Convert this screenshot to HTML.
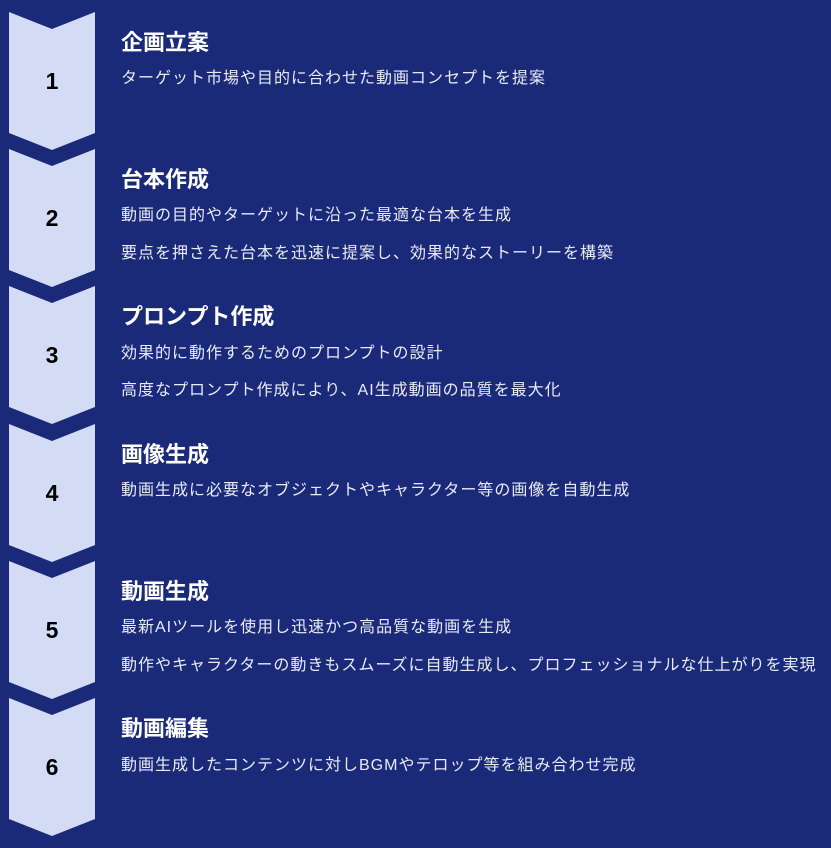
<!DOCTYPE html><html><head><meta charset="utf-8"><style>
body{margin:0;width:831px;height:848px;background:#1b2a78;font-family:"Liberation Sans","Noto Sans CJK JP",sans-serif;position:relative;overflow:hidden}
svg{position:absolute;left:0;top:0}
.t{position:absolute;left:121px;color:#fff;font-weight:bold;font-size:22px;line-height:26px;white-space:nowrap}
.d{position:absolute;left:121px;color:#e8ebf7;font-size:16px;letter-spacing:1px;line-height:20px;white-space:nowrap}
</style></head><body>
<svg width="831" height="848">
<g fill="#d4dcf5">
<polygon points="9,12 52,29 95,12 95,133 52,150 9,133"/>
<polygon points="9,149 52,166 95,149 95,270 52,287 9,270"/>
<polygon points="9,286 52,303 95,286 95,407 52,424 9,407"/>
<polygon points="9,424 52,441 95,424 95,545 52,562 9,545"/>
<polygon points="9,561 52,578 95,561 95,682 52,699 9,682"/>
<polygon points="9,698 52,715 95,698 95,819 52,836 9,819"/>
</g>
<g font-family="Liberation Sans,sans-serif" font-weight="bold" font-size="23" text-anchor="middle" fill="#000">
<text x="52" y="89">1</text><text x="52" y="226">2</text><text x="52" y="363">3</text><text x="52" y="501">4</text><text x="52" y="638">5</text><text x="52" y="775">6</text>
</g></svg>
<div class="t" style="top:30px">企画立案</div>
<div class="d" style="top:69px">ターゲット市場や目的に合わせた動画コンセプトを提案</div>
<div class="t" style="top:167px">台本作成</div>
<div class="d" style="top:206px">動画の目的やターゲットに沿った最適な台本を生成</div>
<div class="d" style="top:244px">要点を押さえた台本を迅速に提案し、効果的なストーリーを構築</div>
<div class="t" style="top:304px">プロンプト作成</div>
<div class="d" style="top:344px">効果的に動作するためのプロンプトの設計</div>
<div class="d" style="top:381px">高度なプロンプト作成により、AI生成動画の品質を最大化</div>
<div class="t" style="top:442px">画像生成</div>
<div class="d" style="top:481px">動画生成に必要なオブジェクトやキャラクター等の画像を自動生成</div>
<div class="t" style="top:579px">動画生成</div>
<div class="d" style="top:618px">最新AIツールを使用し迅速かつ高品質な動画を生成</div>
<div class="d" style="top:656px">動作やキャラクターの動きもスムーズに自動生成し、プロフェッショナルな仕上がりを実現</div>
<div class="t" style="top:716px">動画編集</div>
<div class="d" style="top:756px">動画生成したコンテンツに対しBGMやテロップ等を組み合わせ完成</div>
</body></html>
